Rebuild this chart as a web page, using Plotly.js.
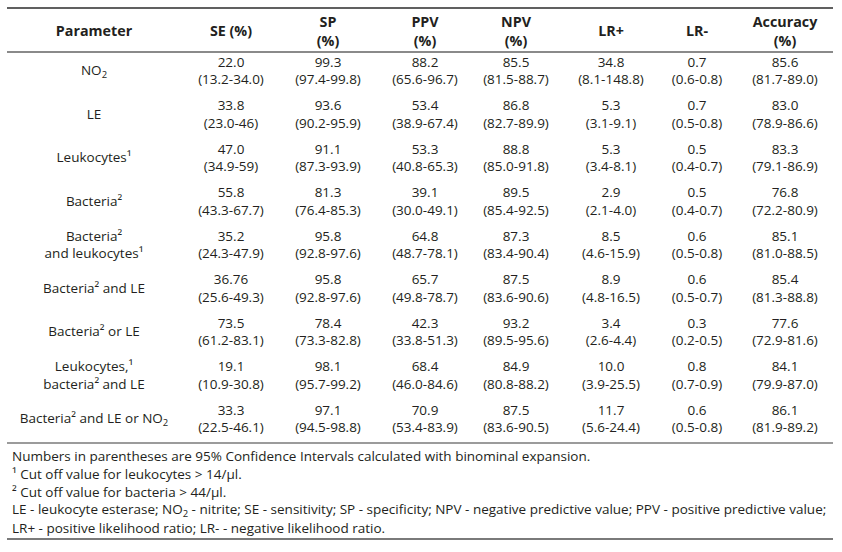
<!DOCTYPE html>
<html>
<head>
<meta charset="utf-8">
<script src="https://cdn.plot.ly/plotly-3.0.1.min.js"></script>
<style>html,body{margin:0;padding:0;background:#fff;}</style>
</head>
<body>
<div id="chart" style="width:842px;height:552px;"></div>
<script>
// ---- data ----
const headers = ['Parameter', 'SE (%)', 'SP<br>(%)', 'PPV<br>(%)', 'NPV<br>(%)', 'LR+', 'LR-', 'Accuracy<br>(%)'];
const parameters = [
  'NO<sub>2</sub>',
  'LE',
  'Leukocytes¹',
  'Bacteria²',
  'Bacteria²<br>and leukocytes¹',
  'Bacteria² and LE',
  'Bacteria² or LE',
  'Leukocytes,¹<br>bacteria² and LE',
  'Bacteria² and LE or NO<sub>2</sub>'
];
const se    = ['22.0','33.8','47.0','55.8','35.2','36.76','73.5','19.1','33.3'];
const seCI  = ['13.2-34.0','23.0-46','34.9-59','43.3-67.7','24.3-47.9','25.6-49.3','61.2-83.1','10.9-30.8','22.5-46.1'];
const sp    = ['99.3','93.6','91.1','81.3','95.8','95.8','78.4','98.1','97.1'];
const spCI  = ['97.4-99.8','90.2-95.9','87.3-93.9','76.4-85.3','92.8-97.6','92.8-97.6','73.3-82.8','95.7-99.2','94.5-98.8'];
const ppv   = ['88.2','53.4','53.3','39.1','64.8','65.7','42.3','68.4','70.9'];
const ppvCI = ['65.6-96.7','38.9-67.4','40.8-65.3','30.0-49.1','48.7-78.1','49.8-78.7','33.8-51.3','46.0-84.6','53.4-83.9'];
const npv   = ['85.5','86.8','88.8','89.5','87.3','87.5','93.2','84.9','87.5'];
const npvCI = ['81.5-88.7','82.7-89.9','85.0-91.8','85.4-92.5','83.4-90.4','83.6-90.6','89.5-95.6','80.8-88.2','83.6-90.5'];
const lrPos   = ['34.8','5.3','5.3','2.9','8.5','8.9','3.4','10.0','11.7'];
const lrPosCI = ['8.1-148.8','3.1-9.1','3.4-8.1','2.1-4.0','4.6-15.9','4.8-16.5','2.6-4.4','3.9-25.5','5.6-24.4'];
const lrNeg   = ['0.7','0.7','0.5','0.5','0.6','0.6','0.3','0.8','0.6'];
const lrNegCI = ['0.6-0.8','0.5-0.8','0.4-0.7','0.4-0.7','0.5-0.8','0.5-0.7','0.2-0.5','0.7-0.9','0.5-0.8'];
const accuracy   = ['85.6','83.0','83.3','76.8','85.1','85.4','77.6','84.1','86.1'];
const accuracyCI = ['81.7-89.0','78.9-86.6','79.1-86.9','72.2-80.9','81.0-88.5','81.3-88.8','72.9-81.6','79.9-87.0','81.9-89.2'];
const footnotes = [
  'Numbers in parentheses are 95% Confidence Intervals calculated with binominal expansion.',
  '¹ Cut off value for leukocytes > 14/µl.',
  '² Cut off value for bacteria > 44/µl.',
  'LE - leukocyte esterase; NO<sub>2</sub> - nitrite; SE - sensitivity; SP - specificity; NPV - negative predictive value; PPV - positive predictive value;',
  'LR+ - positive likelihood ratio; LR- - negative likelihood ratio.'
];

// ---- layout constants (positions/styles) ----
const W = 842, H = 552;
const colX = [94, 231, 328, 425, 516, 611, 697, 785];
const rowPx = 43.5, row0Px = 72;      // pixel spacing of body rows
const headerRow = -0.9;               // header row position in row units
const FONT = '"Open Sans", "Noto Sans", sans-serif';
const TXT = '#231f20';
const fs = 13.5;

const valueCols = [[se,seCI],[sp,spCI],[ppv,ppvCI],[npv,npvCI],[lrPos,lrPosCI],[lrNeg,lrNegCI],[accuracy,accuracyCI]];
const rowIdx = parameters.map((_, i) => i);

const traces = [];
// parameter column
traces.push({
  type: 'scatter', mode: 'text', hoverinfo: 'skip', showlegend: false, cliponaxis: false,
  x: rowIdx.map(() => colX[0]), y: rowIdx, text: parameters,
  textposition: 'middle center', textfont: {family: FONT, size: fs, color: TXT}
});
valueCols.forEach((pair, c) => {
  const [v, ci] = pair;
  traces.push({
    type: 'scatter', mode: 'text', hoverinfo: 'skip', showlegend: false, cliponaxis: false,
    x: rowIdx.map(() => colX[c + 1]), y: rowIdx,
    text: v.map((val, i) => val + '<br>(' + ci[i] + ')'),
    textposition: 'middle center', textfont: {family: FONT, size: fs, color: TXT}
  });
});
// header
traces.push({
  type: 'scatter', mode: 'text', hoverinfo: 'skip', showlegend: false, cliponaxis: false,
  x: colX, y: headers.map(() => headerRow), text: headers.map(h => '<b>' + h + '</b>'),
  textposition: 'middle center', textfont: {family: FONT, size: 14.3, color: TXT}
});

const yTop = -row0Px / rowPx;
const yBot = (parameters.length - 1) + (H - (row0Px + (parameters.length - 1) * rowPx)) / rowPx;
const py = px => 1 - px / H;

const x0 = 7 / W, x1 = 833 / W;
const shapes = [
  {type:'line', xref:'paper', yref:'paper', x0:x0, x1:x1, y0:py(8), y1:py(8), line:{color:'#2b2b2b', width:1.3}},
  {type:'line', xref:'paper', yref:'paper', x0:x0, x1:x1, y0:py(52), y1:py(52), line:{color:'#8a8a8a', width:2}},
  {type:'line', xref:'paper', yref:'paper', x0:x0, x1:x1, y0:py(443), y1:py(443), line:{color:'#7a7a7a', width:1.6}},
  {type:'line', xref:'paper', yref:'paper', x0:x0, x1:x1, y0:py(539), y1:py(539), line:{color:'#7a7a7a', width:2}}
];
const footY = [456, 474, 492, 510, 528];
const annotations = footnotes.map((t, i) => ({
  xref:'paper', yref:'paper', x: 10 / W, y: py(footY[i]), xanchor:'left', yanchor:'middle',
  showarrow:false, align:'left', text:t, font:{family: FONT, size: 13.5, color: TXT}
}));

const layout = {
  width: W, height: H, autosize: false,
  margin: {l:0, r:0, t:0, b:0, pad:0},
  paper_bgcolor: '#ffffff', plot_bgcolor: '#ffffff',
  xaxis: {range:[0, W], visible:false, fixedrange:true},
  yaxis: {range:[yBot, yTop], visible:false, fixedrange:true},
  shapes: shapes, annotations: annotations, showlegend:false
};
Plotly.newPlot('chart', traces, layout, {staticPlot:true, displayModeBar:false});
</script>
</body>
</html>
